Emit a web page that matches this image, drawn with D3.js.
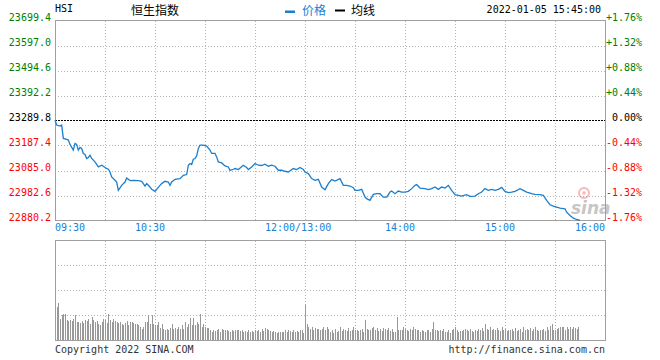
<!DOCTYPE html>
<html><head><meta charset="utf-8">
<script src="https://cdn.jsdelivr.net/npm/d3@7/dist/d3.min.js"></script>
<style>
html,body{margin:0;padding:0;background:#fff;}
svg{display:block;}
text{font-family:"DejaVu Sans Mono",monospace;font-size:10px;}
.cjk{font-family:"Noto Sans CJK SC",sans-serif;font-size:12px;}
</style></head>
<body>
<script>
// ---- data ----
const symbol = "HSI";
const title = "恒生指数";
const legendNames = ["价格", "均线"];
const stamp = "2022-01-05 15:45:00";
const prevClose = 23289.8;
const leftTicks = ["23699.4","23597.0","23494.6","23392.2","23289.8","23187.4","23085.0","22982.6","22880.2"];
const rightTicks = ["+1.76%","+1.32%","+0.88%","+0.44%","0.00%","-0.44%","-0.88%","-1.32%","-1.76%"];
const timeTicks = ["09:30","10:30","12:00/13:00","14:00","15:00","16:00"];

const times = ["09:30","09:31","09:33","09:34","09:35","09:37","09:38","09:39","09:41","09:42","09:43","09:44","09:45","09:46","09:47","09:48","09:49","09:50","09:51","09:52","09:54","09:56","09:58","10:00","10:02","10:03","10:04","10:06","10:07","10:08","10:10","10:12","10:13","10:15","10:17","10:20","10:22","10:23","10:24","10:25","10:27","10:28","10:30","10:31","10:33","10:34","10:36","10:38","10:39","10:40","10:42","10:45","10:47","10:49","10:50","10:51","10:52","10:53","10:54","10:55","10:56","10:57","10:59","11:01","11:03","11:04","11:06","11:07","11:08","11:10","11:12","11:14","11:15","11:17","11:18","11:20","11:23","11:25","11:26","11:28","11:30","11:32","11:34","11:36","11:38","11:40","11:42","11:44","11:46","11:48","11:50","11:53","11:55","11:57","11:59","13:00","13:02","13:04","13:06","13:08","13:10","13:12","13:14","13:16","13:18","13:21","13:23","13:25","13:27","13:29","13:30","13:32","13:34","13:36","13:37","13:39","13:41","13:43","13:45","13:47","13:49","13:51","13:52","13:54","13:56","13:58","14:00","14:02","14:04","14:06","14:07","14:09","14:12","14:14","14:16","14:18","14:20","14:22","14:24","14:26","14:28","14:30","14:32","14:34","14:37","14:39","14:42","14:44","14:46","14:48","14:50","14:52","14:54","14:56","14:58","15:00","15:02","15:04","15:06","15:09","15:11","15:13","15:16","15:18","15:21","15:23","15:25","15:27","15:29","15:31","15:33","15:36","15:37","15:39","15:41","15:43","15:45"];
const prices = [23291.9,23271.3,23267.2,23271.0,23216.5,23212.4,23209.5,23191.8,23168.4,23195.9,23191.8,23168.4,23179.5,23175.3,23154.8,23150.6,23134.2,23138.3,23147.8,23134.2,23120.2,23099.6,23106.6,23097.1,23090.1,23079.0,23058.4,23044.8,23037.8,23003.7,23024.2,23037.8,23054.3,23043.6,23044.8,23043.6,23040.7,23031.3,23021.4,23031.3,23017.3,23007.8,22999.6,23007.8,23024.2,23031.3,23040.7,23037.8,23024.2,23037.8,23048.9,23051.8,23065.4,23068.3,23106.6,23113.6,23109.5,23131.3,23134.2,23144.9,23175.3,23189.0,23189.0,23184.8,23168.4,23154.8,23154.8,23140.8,23120.2,23116.1,23103.7,23099.6,23085.1,23090.1,23093.0,23088.9,23106.6,23097.1,23088.9,23099.6,23113.6,23106.6,23105.4,23110.7,23102.5,23106.6,23102.5,23086.0,23086.0,23081.9,23079.0,23093.0,23088.9,23097.1,23088.9,23079.0,23072.4,23051.8,23044.8,23048.9,23017.3,23006.5,23031.3,23047.7,23042.0,23051.8,23024.2,23024.2,23021.4,23014.8,23003.7,23003.7,23007.8,22976.1,22969.5,22962.5,22987.2,22990.0,22990.0,22976.1,22976.1,22996.7,23000.8,22990.0,23000.8,22996.7,22996.7,22999.6,23010.7,23024.2,23027.1,23013.1,23010.7,23006.5,23010.7,23017.3,23007.8,23017.3,23013.1,23024.2,23003.7,22985.9,22983.1,22980.2,22985.9,22979.0,22980.2,22990.0,22996.7,23010.7,23003.7,23007.8,23003.7,23007.8,23016.1,22999.6,22994.2,22996.7,22999.6,23010.7,23003.7,22996.7,22990.0,22987.2,22985.9,22983.1,22962.5,22944.8,22939.0,22934.9,22930.8,22928.3,22914.3,22900.7,22889.6,22884.3,22881.0];

// volume per minute starting at 09:31 (relative units)
const volumes = [33.7,37.7,22,26,27,26.3,20.3,19.7,20.3,19.7,
22,25.3,18.7,18.7,18,19.7,18,20.3,19.7,22,
17,23.7,20.3,18.7,19.7,17,15.3,18.7,22,21,
18,27,21,18.7,22,19.7,18.7,18,18.7,17,
15.3,18,19.7,15.3,18.7,18.7,17.7,17,16.3,15.3,
13.7,12,13.7,18.7,18.7,25.3,17,25.3,17,16,
15.3,18.7,13,17,12,11,12,11,13,17,
12,12.7,12,13.7,12,15.3,12,18.7,13.7,17,
23,15.3,23,15.3,18.7,17,27,13.7,17,13.7,
13,13,
10.3,8.7,11,9.7,10.3,12,8.7,12,10.3,10.3,
10.3,9.7,8.7,10.3,9.7,11,10.3,11,9.7,10.3,
8.7,9.7,8.7,10.3,8.7,9.7,8.7,10.3,9.7,10.3,
8.7,12,9.7,13,12,10.3,9.7,8.7,9.7,8.7,
8,8.7,8.7,8.7,8.7,10.3,8.7,10.3,9.7,8.7,
10.3,8.7,9.7,8.7,10.3,11,7.7,
36,
17,13.7,12,13.7,10.3,13,12,12,10.3,12,13.7,10.3,13.7,12,
8.7,10.3,8,12,9,10,13.7,9.7,12,11,
9.7,12.7,10,11,14,10.3,10.3,10,10.3,12,
9,21,12,11,10.3,13,13.7,11,13,9.7,
12,10,13,12,10.3,13,10,12,9,8.7,
23.7,11,10.3,11,13.7,12,10.3,9.7,12,10.3,
13.7,12,11,10.3,8.7,10.3,9.7,8.7,10.3,10.3,
9,12,18.7,10.3,11,9.7,10.3,10,12,9,
8.7,11,8,10.3,12,14,10.3,8.7,9.7,10,
11,12,10.3,9.7,12,10,9,10.3,9.7,12,
10.3,13,10,16.7,12,10.3,13.7,11,12,10.3,
13,11,10,13.7,10.3,12,9.7,11,10.3,12,
9.7,13,10,10.3,12,9,13.7,10.3,12,11,
13,10,12,13.7,10.3,9.7,11,10.3,12,10,
13.7,10.3,15,16.7,10.3,11,12,12.7,13.7,13.7,
14,11,13.7,12,13.7,12,13.7,12.7,12,13.7];

// ---- layout ----
const W = 660, H = 360;
const L = 55, R = 605, T = 20.5, B = 220.5, VT = 240.5, VB = 340.5;
const blue = "#1a7fcf", green = "#008000", red = "#ff0000", frame = "#a0a0a0", gridC = "#b4b4b4";

function toMinute(s){
  const [h,m] = s.split(":").map(Number);
  const t = h*60+m;
  return t >= 780 ? (t-780)+150 : t-570;
}

const svg = d3.select("body").append("svg").attr("width",W).attr("height",H);

const x = d3.scaleLinear().domain([0,330]).range([L,R]);
const y = d3.scaleLinear().domain([+leftTicks[8], +leftTicks[0]]).range([B,T]);
const yv = d3.scaleLinear().domain([0,100]).range([VB,VT]);

const gridX = d3.range(30,330,30);
const px = v => Math.round(v)+0.5;

// main panel grid
const g = svg.append("g").attr("shape-rendering","crispEdges");
g.selectAll(".vg").data(gridX).join("line")
  .attr("x1",d=>px(x(d))).attr("x2",d=>px(x(d))).attr("y1",T).attr("y2",B)
  .attr("stroke",gridC).attr("stroke-dasharray","1,2");
g.selectAll(".hg").data(leftTicks.slice(1,8).filter(d=>+d!==prevClose)).join("line")
  .attr("x1",L).attr("x2",R).attr("y1",d=>px(y(+d))-0.5).attr("y2",d=>px(y(+d))-0.5)
  .attr("stroke",gridC).attr("stroke-dasharray","1,2");
g.append("line").attr("x1",L).attr("x2",R).attr("y1",y(prevClose)).attr("y2",y(prevClose))
  .attr("stroke","#000").attr("stroke-dasharray","2,1");
g.append("rect").attr("x",L+0.5).attr("y",T).attr("width",R-L).attr("height",B-T)
  .attr("fill","none").attr("stroke",frame);

// volume panel grid
const gv = svg.append("g").attr("shape-rendering","crispEdges");
gv.selectAll(".vg").data(gridX).join("line")
  .attr("x1",d=>px(x(d))).attr("x2",d=>px(x(d))).attr("y1",VT).attr("y2",VB)
  .attr("stroke",gridC).attr("stroke-dasharray","1,2");
gv.selectAll(".hg").data([25,50,75]).join("line")
  .attr("x1",L).attr("x2",R).attr("y1",d=>yv(d)).attr("y2",d=>yv(d))
  .attr("stroke",gridC).attr("stroke-dasharray","1,2");
gv.selectAll(".vb").data(volumes).join("rect")
  .attr("x",(d,i)=>Math.round(x(i+1)))
  .attr("y",d=>Math.round(yv(d)))
  .attr("width",1)
  .attr("height",d=>VB-Math.round(yv(d)))
  .attr("fill","#999");
gv.append("rect").attr("x",L+0.5).attr("y",VT).attr("width",R-L).attr("height",VB-VT)
  .attr("fill","none").attr("stroke",frame);

// watermark
const wm = svg.append("g").attr("opacity",0.55);
wm.append("circle").attr("cx",584).attr("cy",193).attr("r",5).attr("fill","none").attr("stroke","#f08080").attr("stroke-width",2);
wm.append("circle").attr("cx",584).attr("cy",193).attr("r",1.8).attr("fill","#f08080");
wm.append("text").attr("x",571).attr("y",214).text("sina")
  .style("font-family","DejaVu Sans").style("font-size","17px").style("font-weight","bold").style("font-style","italic")
  .attr("fill","#999");

// price line
const line = d3.line().x(d=>x(toMinute(d[0]))).y(d=>y(d[1]));
svg.append("path").datum(times.map((t,i)=>[t,prices[i]]))
  .attr("d",line).attr("fill","none").attr("stroke",blue).attr("stroke-width",1.3);

// left / right labels
svg.selectAll(".ll").data(leftTicks).join("text")
  .attr("x",51).attr("y",d=>y(+d)+0.5).attr("text-anchor","end")
  .attr("fill",d=>+d>prevClose?green:(+d<prevClose?red:"#000")).text(d=>d);
svg.selectAll(".rl").data(rightTicks).join("text")
  .attr("x",642).attr("y",(d,i)=>y(+leftTicks[i])+0.5).attr("text-anchor","end")
  .attr("fill",d=>d[0]==="+"?green:(d[0]==="-"?red:"#000")).text(d=>d);

// time labels
const timePos = [0,60,150,210,270,330];
svg.selectAll(".tl").data(timeTicks).join("text")
  .attr("x",(d,i)=> i===0 ? L : (i===timeTicks.length-1 ? R : x(timePos[i]) - d.length*3 - 5 + (d.length>5?-2:0)))
  .attr("y",231)
  .attr("text-anchor",(d,i)=> i===timeTicks.length-1 ? "end" : "start")
  .attr("fill",blue).text(d=>d);

// header
svg.append("text").attr("x",55).attr("y",12).attr("fill","#000").text(symbol);
svg.append("text").attr("class","cjk").attr("x",131).attr("y",15).attr("fill","#000").text(title);
svg.append("rect").attr("x",285).attr("y",10.5).attr("width",10).attr("height",2.5).attr("fill",blue);
svg.append("text").attr("class","cjk").attr("x",302).attr("y",15).attr("fill",blue).text(legendNames[0]);
svg.append("rect").attr("x",335).attr("y",9.5).attr("width",10).attr("height",2).attr("fill","#000");
svg.append("text").attr("class","cjk").attr("x",351).attr("y",15).attr("fill","#000").text(legendNames[1]);
svg.append("text").attr("x",601).attr("y",13).attr("text-anchor","end").attr("fill","#000").text(stamp);

// footer
svg.append("text").attr("x",55).attr("y",353).attr("fill","#333").text("Copyright 2022 SINA.COM");
svg.append("text").attr("x",605).attr("y",353).attr("text-anchor","end").attr("fill","#333").text("http://finance.sina.com.cn");
</script>
</body></html>
